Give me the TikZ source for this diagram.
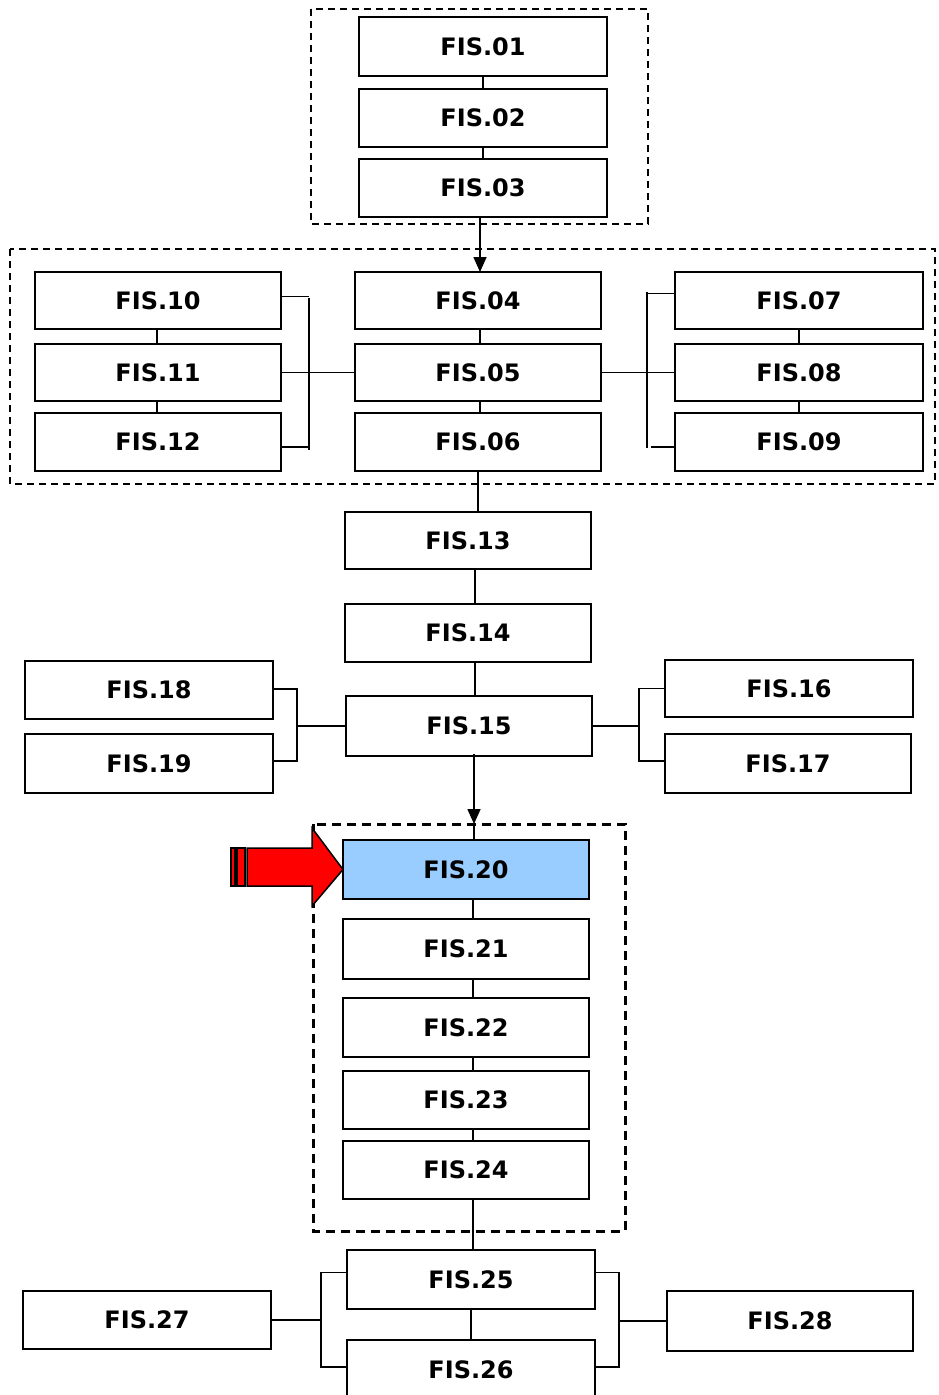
\documentclass[tikz,border=0pt]{standalone}
\usepackage{fontspec}
\setmainfont{DejaVu Sans}
\usetikzlibrary{arrows.meta,calc}
\definecolor{boxblue}{HTML}{99CCFF}
\tikzset{
  fis/.style={draw, line width=2pt, inner sep=0pt, outer sep=0pt, minimum width=246pt, minimum height=58pt,
    font=\fontsize{24}{28}\selectfont\bfseries},
  conn/.style={line width=1.6pt},
  arr/.style={line width=1.6pt, -{Triangle[length=15pt,width=13pt]}},
  dbox/.style={line width=1.5pt, dash pattern=on 7pt off 5pt},
  dboxthick/.style={line width=3pt, dash pattern=on 9pt off 6pt},
}
\begin{document}
\begin{tikzpicture}[x=1pt,y=-1pt]
\useasboundingbox[fill=white] (0,0) rectangle (939,1395);
% dashed groups
\draw[dbox] (311,9) rectangle (648,224);
\draw[dbox] (10,249) rectangle (935,484);
\draw[dboxthick] (313,824) rectangle (625,1231);
% top group
\node[fis, minimum width=248pt, minimum height=59pt] (f01) at (483,46.5) {FIS.01};
\node[fis, minimum width=248pt] (f02) at (483,118) {FIS.02};
\node[fis, minimum width=248pt] (f03) at (483,188) {FIS.03};
% second group
\node[fis, minimum height=57pt] (f04) at (478,300.5) {FIS.04};
\node[fis, minimum height=57pt] (f05) at (478,372.5) {FIS.05};
\node[fis] (f06) at (478,442) {FIS.06};
\node[fis, minimum height=57pt] (f10) at (158,300.5) {FIS.10};
\node[fis, minimum height=57pt] (f11) at (158,372.5) {FIS.11};
\node[fis] (f12) at (158,442) {FIS.12};
\node[fis, minimum width=248pt, minimum height=57pt] (f07) at (799,300.5) {FIS.07};
\node[fis, minimum width=248pt, minimum height=57pt] (f08) at (799,372.5) {FIS.08};
\node[fis, minimum width=248pt] (f09) at (799,442) {FIS.09};
% middle
\node[fis, minimum height=57pt] (f13) at (468,540.5) {FIS.13};
\node[fis] (f14) at (468,633) {FIS.14};
\node[fis, minimum height=60pt] (f15) at (469,726) {FIS.15};
\node[fis, minimum width=248pt] (f18) at (149,690) {FIS.18};
\node[fis, minimum width=248pt, minimum height=59pt] (f19) at (149,763.5) {FIS.19};
\node[fis, minimum width=248pt, minimum height=57pt] (f16) at (789,688.5) {FIS.16};
\node[fis, minimum height=59pt] (f17) at (788,763.5) {FIS.17};
% third group
\node[fis, minimum height=59pt, fill=boxblue] (f20) at (466,869.5) {FIS.20};
\node[fis, minimum height=60pt] (f21) at (466,949) {FIS.21};
\node[fis, minimum height=59pt] (f22) at (466,1027.5) {FIS.22};
\node[fis] (f23) at (466,1100) {FIS.23};
\node[fis] (f24) at (466,1170) {FIS.24};
% bottom
\node[fis, minimum width=248pt, minimum height=59pt] (f25) at (471,1279.5) {FIS.25};
\node[fis, minimum width=248pt, minimum height=60pt] (f26) at (471,1370) {FIS.26};
\node[fis, minimum width=248pt] (f27) at (147,1320) {FIS.27};
\node[fis, minimum height=60pt] (f28) at (790,1321) {FIS.28};
% top connectors
\draw[conn] (f01.south) -- (f02.north);
\draw[conn] (f02.south) -- (f03.north);
\draw[arr] ([xshift=-3pt]f03.south) -- ([xshift=-3pt]f03.south |- f04.north);
% second group connectors
\draw[conn] ([xshift=2pt]f04.south) -- ([xshift=2pt]f05.north);
\draw[conn] ([xshift=2pt]f05.south) -- ([xshift=2pt]f06.north);
\draw[conn] ([xshift=-1pt]f10.south) -- ([xshift=-1pt]f11.north);
\draw[conn] ([xshift=-1pt]f11.south) -- ([xshift=-1pt]f12.north);
\draw[conn] (f07.south) -- (f08.north);
\draw[conn] (f08.south) -- (f09.north);
% left bracket
\coordinate (bl1) at ($(f10.east)+(28,-3)$);
\coordinate (bl2) at ($(f12.east)+(28,0)$);
\draw[conn] ([yshift=4pt]f10.east) -- ([yshift=4pt]f10.east -| bl1);
\draw[conn] ([yshift=-5pt]f12.east) -- ([yshift=-5pt]f12.east -| bl1);
\draw[conn] (bl1) -- ($(bl2)+(0,8)$);
\draw[conn] (f11.east) -- (f05.west);
% right bracket
\coordinate (br1) at ($(f07.west)+(-28,-10)$);
\draw[conn] ([yshift=7pt]f07.west) -- ([yshift=7pt]f07.west -| br1);
\draw[conn] ([yshift=-5pt]f09.west) -- ([yshift=-5pt,xshift=-24pt]f09.west);
\draw[conn] ($(f07.west)+(-28,-9)$) -- ($(f09.west)+(-28,6)$);
\draw[conn] (f05.east) -- (f08.west);
% middle connectors
\draw[conn] (f06.south) -- (f06.south |- f13.north);
\draw[conn] ([xshift=7pt]f13.south) -- ([xshift=7pt]f13.south |- f14.north);
\draw[conn] ([xshift=7pt]f14.south) -- ([xshift=7pt]f14.south |- f15.north);
\coordinate (d3top) at (474,824);
\draw[arr] ([xshift=5pt,yshift=2pt]f15.south) -- ([xshift=5pt]f15.south |- d3top);
\draw[conn] (d3top) -- (d3top |- f20.north);
% left bracket 18/19
\coordinate (bm1) at ($(f18.east)+(24,0)$);
\draw[conn] ([yshift=1pt]f18.east) -- ([yshift=1pt]bm1) -- ($(f19.east)+(24,-2.5)$) -- ([yshift=2.5pt]f19.east);
\draw[conn] (f15.west) -- ($(f15.west)+(-48,0)$);
% right bracket 16/17
\coordinate (bm2) at ($(f16.west)+(-26,0)$);
\draw[conn] (f16.west) -- (bm2) -- ($(f17.west)+(-26,-2.5)$) -- ([yshift=2.5pt]f17.west);
\draw[conn] (f15.east) -- ($(f15.east)+(46,0)$);
% third group connectors
\draw[conn] ([xshift=7pt]f20.south) -- ([xshift=7pt]f21.north);
\draw[conn] ([xshift=7pt]f21.south) -- ([xshift=7pt]f22.north);
\draw[conn] ([xshift=7pt]f22.south) -- ([xshift=7pt]f23.north);
\draw[conn] ([xshift=7pt]f23.south) -- ([xshift=7pt]f24.north);
\draw[conn] ([xshift=7pt]f24.south) -- ([xshift=7pt]f24.south |- f25.north);
% bottom connectors
\draw[conn] (f25.south) -- (f26.north);
\draw[conn] ([yshift=7pt]f25.west) -- ++(-26,0) coordinate (bb1) -- ($(f26.west)+(-26,-3)$) -- ([yshift=3pt]f26.west);
\draw[conn] (f27.east) -- ($(f27.east)+(50,0)$);
\draw[conn] ([yshift=7pt]f25.east) -- ++(24,0) -- ($(f26.east)+(24,-3)$) -- ([yshift=3pt]f26.east);
\draw[conn] (f28.west) -- ($(f28.west)+(-48,0)$);
% red arrow
\draw[line width=1.5pt, fill=red, line join=miter] (247,848) -- (312,848) -- (312,828) -- (f20.west) -- (312,906) -- (312,886) -- (247,886) -- cycle;
\draw[line width=1.5pt, fill=red] (237,848) rectangle (245,886);
\draw[line width=1.5pt, fill=red] (231,848) rectangle (235,886);
\end{tikzpicture}
\end{document}
